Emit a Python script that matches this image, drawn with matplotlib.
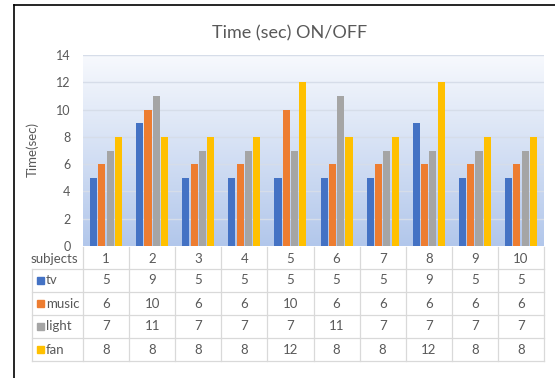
import matplotlib
matplotlib.use("Agg")
import matplotlib.pyplot as plt
import numpy as np

plt.rcParams["font.family"] = ["Lato", "DejaVu Sans"]

subjects = ["1", "2", "3", "4", "5", "6", "7", "8", "9", "10"]
series_names = ["tv", "music", "light", "fan"]
tv = [5, 9, 5, 5, 5, 5, 5, 9, 5, 5]
music = [6, 10, 6, 6, 10, 6, 6, 6, 6, 6]
light = [7, 11, 7, 7, 7, 11, 7, 7, 7, 7]
fan = [8, 8, 8, 8, 12, 8, 8, 12, 8, 8]
y_ticks = [0, 2, 4, 6, 8, 10, 12, 14]

series = [tv, music, light, fan]
colors = ["#4472C4", "#ED7D31", "#A5A5A5", "#FFC000"]
TXT = "#595959"

W, H = 555, 378
fig = plt.figure(figsize=(W / 100, H / 100), dpi=100)
fig.patch.set_facecolor("white")

# pixel helpers
def fx(px):
    return px / W

def fy(py):
    return 1 - py / H

# bar chart area
x0, x1, ytop, ybot = 83, 544, 55, 246
ax = fig.add_axes([fx(x0), fy(ybot), fx(x1) - fx(x0), fy(ytop) - fy(ybot)])
n = len(subjects)

# vertical gradient background, white at top to light blue at bottom
grad = np.linspace(0, 1, 256)[:, None, None]
top_c = np.array([0xf7, 0xf9, 0xfd]) / 255
bot_c = np.array([0xb2, 0xc7, 0xeb]) / 255
img = np.repeat(top_c + (bot_c - top_c) * grad, 2, axis=1)
ax.imshow(img, extent=(-0.5, n - 0.5, 0, 14), origin="upper", aspect="auto", zorder=0)
ax.set_xlim(-0.5, n - 0.5)
ax.set_ylim(0, 14)

for t in y_ticks[1:]:
    ax.axhline(t, color="#d6dde9", lw=1.0, zorder=1)

pitch, width = 0.18, 0.152
x = np.arange(n)
for k, (vals, c) in enumerate(zip(series, colors)):
    ax.bar(x + (k - 1.5) * pitch, vals, width=width, color=c, zorder=2)

ax.set_xticks([])
ax.set_yticks(y_ticks)
ax.set_yticklabels([str(t) for t in y_ticks], fontsize=9, color=TXT)
ax.tick_params(axis="y", length=0, pad=9)
for s in ax.spines.values():
    s.set_visible(False)

fig.text(fx(290), fy(33), "Time (sec) ON/OFF", fontsize=13, color=TXT,
         ha="center", va="center")
fig.text(fx(32), fy(150), "Time(sec)", fontsize=9.5, color=TXT, rotation=90,
         ha="center", va="center")

# data table under the chart, drawn in pixel coordinates
tab = fig.add_axes([0, 0, 1, 1])
tab.set_xlim(0, W)
tab.set_ylim(H, 0)
tab.axis("off")

col_w = (x1 - x0) / n
rows = [247, 269, 292, 315, 338, 361]
lc = "#d9d9d9"
for r in rows[1:]:
    tab.plot([32, x1], [r, r], color=lc, lw=0.9)
tab.plot([32, 32], [rows[1], rows[-1]], color=lc, lw=0.9)
for j in range(n + 1):
    xv = x0 + j * col_w
    tab.plot([xv, xv], [rows[0], rows[-1]], color=lc, lw=0.9)

fs = 9.5
tab.text(78, (rows[0] + rows[1]) / 2 + 1, "subjects", fontsize=fs, color=TXT,
         ha="right", va="center")
for j, s in enumerate(subjects):
    tab.text(x0 + (j + 0.5) * col_w, (rows[0] + rows[1]) / 2 + 1, s,
             fontsize=fs, color=TXT, ha="center", va="center")

for i, (name, vals, c) in enumerate(zip(series_names, series, colors)):
    yc = (rows[i + 1] + rows[i + 2]) / 2
    tab.add_patch(plt.Rectangle((37, yc - 3.5), 7, 7, color=c))
    tab.text(46, yc, name, fontsize=fs, color=TXT, ha="left", va="center")
    for j, v in enumerate(vals):
        tab.text(x0 + (j + 0.5) * col_w, yc, str(v), fontsize=fs, color=TXT,
                 ha="center", va="center")

# outer frame edges
tab.plot([14, W], [5, 5], color="black", lw=1.2)
tab.plot([14, 14], [5, H], color="black", lw=1.2)

fig.savefig("out.png", dpi=100)
